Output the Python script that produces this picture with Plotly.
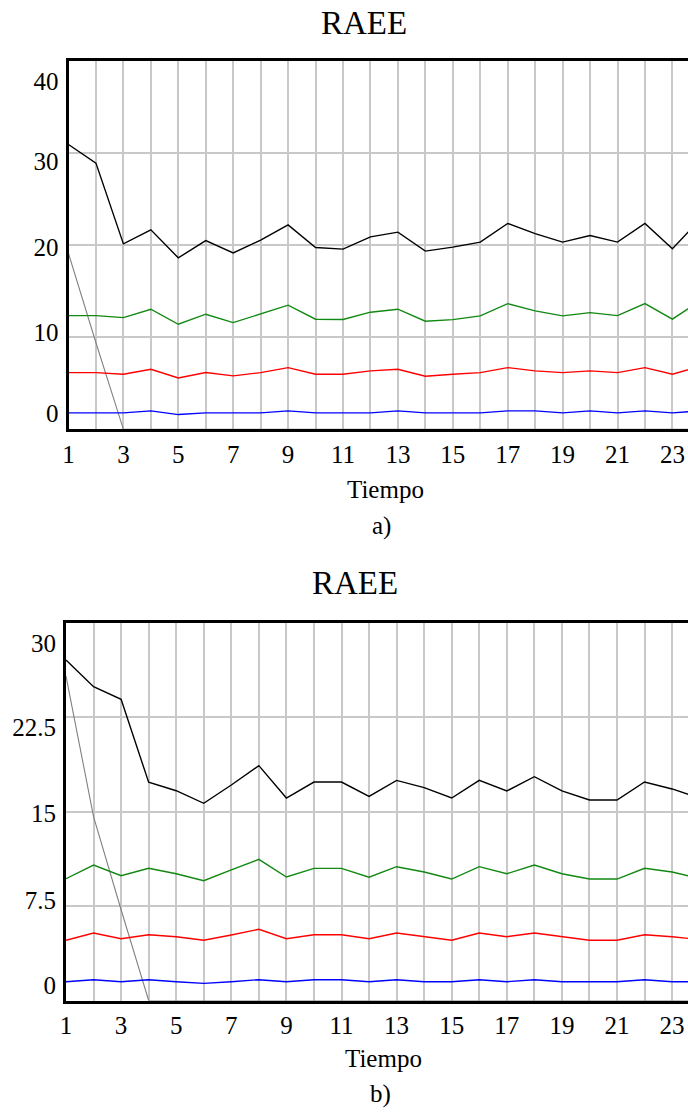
import plotly.graph_objects as go

# ---------------- data ----------------
tiempo = list(range(1, 25))

# panel a)
a_black = [30.93, 28.91, 20.14, 21.66, 18.62, 20.5, 19.16, 20.54, 22.2, 19.74, 19.57, 20.9,
           21.41, 19.35, 19.78, 20.33, 22.35, 21.26, 20.33, 21.04, 20.33, 22.35, 19.6, 22.76]
a_green = [12.35, 12.35, 12.13, 13.04, 11.41, 12.5, 11.59, 12.53, 13.48, 11.96, 11.93, 12.72,
           13.04, 11.74, 11.91, 12.32, 13.65, 12.86, 12.32, 12.67, 12.35, 13.65, 11.96, 13.92]
a_red = [6.16, 6.16, 5.98, 6.52, 5.58, 6.16, 5.8, 6.16, 6.7, 5.98, 5.98, 6.35,
         6.52, 5.76, 5.98, 6.16, 6.7, 6.35, 6.16, 6.35, 6.16, 6.7, 5.98, 6.84]
a_blue = [1.78, 1.78, 1.78, 2.0, 1.6, 1.78, 1.78, 1.78, 2.0, 1.78, 1.78, 1.78,
          2.0, 1.78, 1.78, 1.78, 2.0, 2.0, 1.78, 2.0, 1.78, 2.0, 1.78, 2.0]
a_gray = [19.1, 9.4, 0, 0, 0, 0, 0, 0, 0, 0, 0, 0,
          0, 0, 0, 0, 0, 0, 0, 0, 0, 0, 0, 0]

# panel b)
b_black = [27.02, 24.9, 23.9, 17.32, 16.65, 15.65, 17.1, 18.64, 16.07, 17.34, 17.34, 16.2,
           17.47, 16.89, 16.07, 17.47, 16.63, 17.76, 16.63, 15.91, 15.91, 17.34, 16.79, 16.05]
b_green = [9.67, 10.75, 9.9, 10.49, 10.06, 9.51, 10.36, 11.2, 9.8, 10.49, 10.49, 9.78,
           10.62, 10.2, 9.64, 10.62, 10.06, 10.75, 10.06, 9.64, 9.64, 10.49, 10.2, 9.68]
b_red = [4.78, 5.36, 4.9, 5.22, 5.06, 4.78, 5.2, 5.65, 4.9, 5.22, 5.22, 4.9,
         5.36, 5.06, 4.78, 5.36, 5.06, 5.36, 5.06, 4.78, 4.78, 5.22, 5.06, 4.84]
b_blue = [1.49, 1.65, 1.49, 1.65, 1.49, 1.36, 1.49, 1.65, 1.49, 1.65, 1.65, 1.49,
          1.65, 1.49, 1.49, 1.65, 1.49, 1.65, 1.49, 1.49, 1.49, 1.65, 1.49, 1.49]
b_gray = [25.75, 14.59, 7.2, 0, 0, 0, 0, 0, 0, 0, 0, 0,
          0, 0, 0, 0, 0, 0, 0, 0, 0, 0, 0, 0]

x_ticks = list(range(1, 25))
x_ticktext = [str(v) if v % 2 == 1 else "" for v in x_ticks]

a_grid = [0, 10, 20, 30, 40]
a_labels = ["0", "10", "20", "30", "40"]
b_grid = [0, 7.5, 15, 22.5, 30]
b_labels = ["0", "7.5", "15", "22.5", "30"]

# label placement (as drawn in the original, slightly compressed toward the middle)
a_label_pos = [1.74, 10.58, 19.8, 29.16, 37.8]
b_label_pos = [1.23, 7.92, 14.88, 21.71, 28.37]

# ---------------- figure ----------------
W, H = 688, 1113
FONT = "Liberation Serif"
colors = {"black": "#000000", "green": "#118811", "red": "#ff0000", "blue": "#0000ff", "gray": "#808080"}

fig = go.Figure()

def add_panel(xa, ya, series):
    for name, vals in series:
        fig.add_trace(go.Scatter(
            x=tiempo, y=vals, mode="lines", xaxis=xa, yaxis=ya,
            line=dict(color=colors[name], width=1.4 if name != "gray" else 1.1),
            showlegend=False, hoverinfo="skip"))

add_panel("x", "y", [("gray", a_gray), ("blue", a_blue), ("red", a_red), ("green", a_green), ("black", a_black)])
add_panel("x2", "y2", [("gray", b_gray), ("blue", b_blue), ("red", b_red), ("green", b_green), ("black", b_black)])
# empty traces so the label axes get drawn
fig.add_trace(go.Scatter(x=[], y=[], xaxis="x", yaxis="y3", showlegend=False, hoverinfo="skip"))
fig.add_trace(go.Scatter(x=[], y=[], xaxis="x2", yaxis="y4", showlegend=False, hoverinfo="skip"))

def px_to_dom(top_px, bot_px):
    return [1 - bot_px / H, 1 - top_px / H]

a_dom_y = px_to_dom(61, 429.3)
b_dom_y = px_to_dom(622.5, 1000.5)

grid_col = "#c8c8c8"
tickfont = dict(family=FONT, size=25, color="black")

common_x = dict(
    tickvals=x_ticks, ticktext=x_ticktext, showgrid=True, gridcolor=grid_col, gridwidth=1.5,
    showline=True, linecolor="black", linewidth=2.5, mirror=True, zeroline=False,
    ticks="", tickfont=tickfont, automargin=False, ticklabelstandoff=1,
)
common_y = dict(
    showgrid=True, gridcolor=grid_col, gridwidth=1.5, showticklabels=False,
    showline=True, linecolor="black", linewidth=2.5, mirror=False, zeroline=False,
    ticks="", automargin=False,
)
label_y = dict(
    showgrid=False, showline=False, zeroline=False, ticks="", side="left",
    tickfont=tickfont, automargin=False, ticklabelstandoff=9,
)

fig.update_layout(
    width=W, height=H, margin=dict(l=0, r=0, t=0, b=0),
    template="none", paper_bgcolor="white", plot_bgcolor="white",
    showlegend=False,
    xaxis=dict(domain=[68.5 / W, 1.0], range=[1, 1 + (W - 68.5) / 27.45], anchor="y", **common_x),
    yaxis=dict(domain=a_dom_y, range=[0, 40], tickvals=a_grid, anchor="x", **common_y),
    yaxis3=dict(overlaying="y", anchor="x", range=[0, 40], tickvals=a_label_pos, ticktext=a_labels, **label_y),
    xaxis2=dict(domain=[66 / W, 1.0], range=[1, 1 + (W - 66) / 27.55], anchor="y2", **common_x),
    yaxis2=dict(domain=b_dom_y, range=[0, 30], tickvals=b_grid, anchor="x2", **common_y),
    yaxis4=dict(overlaying="y2", anchor="x2", range=[0, 30], tickvals=b_label_pos, ticktext=b_labels, **label_y),
)

def ann(text, x, y, size):
    fig.add_annotation(text=text, x=x / W, y=1 - y / H, xref="paper", yref="paper",
                       xanchor="center", yanchor="middle", showarrow=False,
                       font=dict(family=FONT, size=size, color="black"))

ann("RAEE", 364, 23, 33)
ann("Tiempo", 385, 489, 25)
ann("a)", 381, 526, 25)
ann("RAEE", 355, 583, 33)
ann("Tiempo", 383, 1058, 25)
ann("b)", 380, 1094, 25)

fig.write_html("out.html")
